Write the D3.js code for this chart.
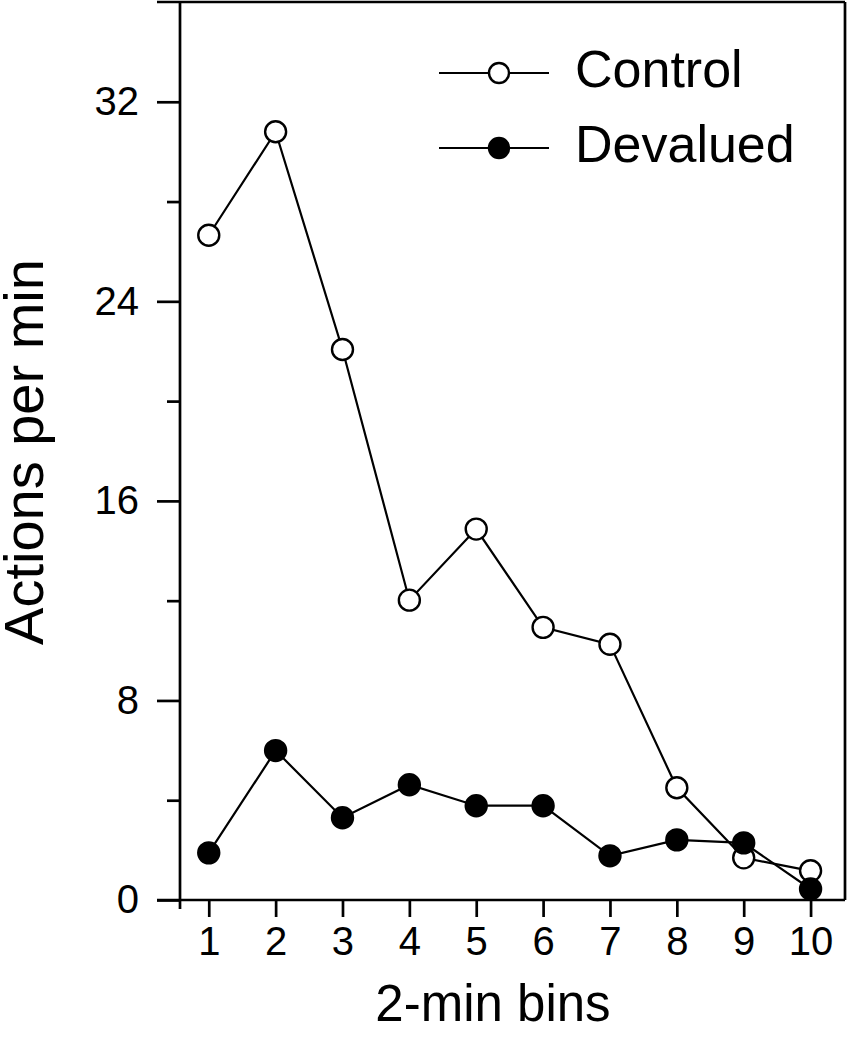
<!DOCTYPE html>
<html><head><meta charset="utf-8">
<script src="https://cdn.jsdelivr.net/npm/d3@7"></script>
<style>body{margin:0;background:#fff}svg{display:block;font-family:"Liberation Sans",Arial,sans-serif}</style>
</head><body><svg id="c" width="848" height="1050"></svg>
<script>
const bins = [1,2,3,4,5,6,7,8,9,10];
const control = [26.65, 30.8, 22.07, 12.02, 14.87, 10.93, 10.25, 4.5, 1.69, 1.17];
const devalued = [1.89, 5.99, 3.3, 4.62, 3.78, 3.78, 1.77, 2.41, 2.29, 0.44];
const yMajor = [0, 8, 16, 24, 32];
const yMinor = [4, 12, 20, 28];
const seriesNames = ["Control", "Devalued"];

const svg = d3.select("#c");
const x = d3.scaleLinear().domain([0.57, 10.5]).range([180, 844]);
const y = d3.scaleLinear().domain([0, 36]).range([900, 2]);
const SW = 2.7;

// frame
svg.append("line").attr("x1",157).attr("x2",845).attr("y1",y(36)).attr("y2",y(36)).attr("stroke","#000").attr("stroke-width",SW);
svg.append("line").attr("x1",845).attr("x2",845).attr("y1",y(36)).attr("y2",y(0)).attr("stroke","#000").attr("stroke-width",SW);

// y axis
const yAx = svg.append("g").attr("transform","translate(180,0)")
  .call(d3.axisLeft(y).tickValues(yMajor).tickSize(23).tickPadding(18).tickFormat(d3.format("d")));
yAx.select(".domain").remove();
yAx.append("line").attr("x1",0).attr("x2",0).attr("y1",y(36)).attr("y2",909).attr("stroke","#000").attr("stroke-width",SW);
yAx.selectAll(".tick line").attr("stroke-width",SW);
yAx.selectAll(".tick text").attr("font-size",40).attr("fill","#000").attr("font-family","Liberation Sans, Arial, sans-serif");
const yMin = svg.append("g").attr("transform","translate(180,0)")
  .call(d3.axisLeft(y).tickValues(yMinor).tickSize(13).tickFormat(""));
yMin.select(".domain").remove();
yMin.selectAll(".tick line").attr("stroke-width",SW);

// x axis
const xAx = svg.append("g").attr("transform","translate(0,900)")
  .call(d3.axisBottom(x).tickValues(bins).tickSize(17).tickPadding(10).tickFormat(d3.format("d")));
xAx.select(".domain").remove();
xAx.append("line").attr("x1",157).attr("x2",845).attr("y1",0).attr("y2",0).attr("stroke","#000").attr("stroke-width",SW);
xAx.selectAll(".tick line").attr("stroke-width",SW);
xAx.selectAll(".tick text").attr("font-size",40).attr("fill","#000").attr("font-family","Liberation Sans, Arial, sans-serif");

// axis titles
svg.append("text").attr("x",493).attr("y",1021).attr("text-anchor","middle").attr("font-size",51).text("2-min bins");
svg.append("text").attr("transform","translate(43,452) rotate(-90)").attr("text-anchor","middle").attr("font-size",56).text("Actions per min");

// lines
const line = d3.line().x((d,i)=>x(bins[i])).y(d=>y(d));
const series = [{vals: control, fill:"#fff"}, {vals: devalued, fill:"#000"}];
series.forEach(s=>{
  svg.append("path").datum(s.vals).attr("d",line).attr("fill","none").attr("stroke","#000").attr("stroke-width",2.2);
});
series.forEach(s=>{
  svg.append("g").selectAll("circle").data(s.vals).join("circle")
    .attr("cx",(d,i)=>x(bins[i])).attr("cy",d=>y(d)).attr("r",10.5)
    .attr("fill",s.fill).attr("stroke","#000").attr("stroke-width",2.4);
});

// legend
const lg = svg.append("g");
seriesNames.forEach((n,i)=>{
  const yy = 73 + i*75;
  lg.append("line").attr("x1",439).attr("x2",549).attr("y1",yy).attr("y2",yy).attr("stroke","#000").attr("stroke-width",2.2);
  lg.append("circle").attr("cx",499).attr("cy",yy).attr("r",10).attr("fill",series[i].fill).attr("stroke","#000").attr("stroke-width",2.4);
  lg.append("text").attr("x",575).attr("y",yy+14).attr("font-size",52).text(n);
});
</script></body></html>
